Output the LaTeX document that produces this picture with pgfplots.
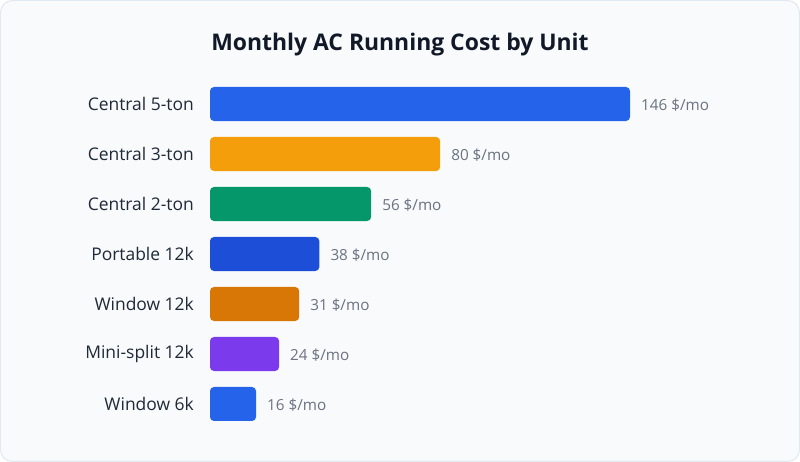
\documentclass[border=0pt]{standalone}
\usepackage{pgfplots}
\pgfplotsset{compat=1.18}
\usepackage{fontspec}
\setmainfont{Open Sans}
\definecolor{bg}{HTML}{F8FAFC}
\definecolor{bd}{HTML}{E2E8F0}
\definecolor{c1}{HTML}{2563EB}
\definecolor{c2}{HTML}{F59E0B}
\definecolor{c3}{HTML}{059669}
\definecolor{c4}{HTML}{1D4ED8}
\definecolor{c5}{HTML}{D97706}
\definecolor{c6}{HTML}{7C3AED}
\definecolor{c7}{HTML}{2563EB}
\definecolor{titlec}{HTML}{111827}
\definecolor{labc}{HTML}{1F2937}
\definecolor{valc}{HTML}{6B7280}
\begin{document}
\begin{tikzpicture}[x=1bp,y=1bp]
\fill[bg,draw=bd,line width=1bp,rounded corners=12bp] (0.5,0.5) rectangle (799.5,461.5);
\node[font=\bfseries\fontsize{23}{27}\selectfont,text=titlec] at (400,417) {Monthly AC Running Cost by Unit};
\begin{axis}[
  at={(210bp,33bp)}, anchor=south west,
  scale only axis, width=420bp, height=350bp,
  xmin=0, xmax=146, ymin=-0.5, ymax=6.5,
  y dir=reverse,
  axis line style={draw=none},
  xbar, bar width=34bp, bar shift=0pt,
  ytick={0,1,2,3,4,5,6},
  yticklabels={Central 5-ton,Central 3-ton,Central 2-ton,Portable 12k,Window 12k,Mini-split 12k,Window 6k},
  xtick=\empty,
  major tick length=0pt,
  yticklabel style={font=\fontsize{17.5}{21}\selectfont, text=labc, anchor=east, inner sep=0pt, xshift=-16bp},
  nodes near coords={\pgfmathprintnumber[assume math mode=true]{\pgfplotspointmeta} \$/mo},
  point meta=x,
  every node near coord/.append style={font=\fontsize{15.3}{18}\selectfont, text=valc, anchor=west, inner sep=0pt, xshift=11bp, yshift=-1bp},
  clip=false,
]
\addplot[fill=c1, draw=none, rounded corners=4bp] coordinates {(146,0)};
\addplot[fill=c2, draw=none, rounded corners=4bp] coordinates {(80,1)};
\addplot[fill=c3, draw=none, rounded corners=4bp] coordinates {(56,2)};
\addplot[fill=c4, draw=none, rounded corners=4bp] coordinates {(38,3)};
\addplot[fill=c5, draw=none, rounded corners=4bp] coordinates {(31,4)};
\addplot[fill=c6, draw=none, rounded corners=4bp] coordinates {(24,5)};
\addplot[fill=c7, draw=none, rounded corners=4bp] coordinates {(16,6)};
\end{axis}
\end{tikzpicture}
\end{document}
